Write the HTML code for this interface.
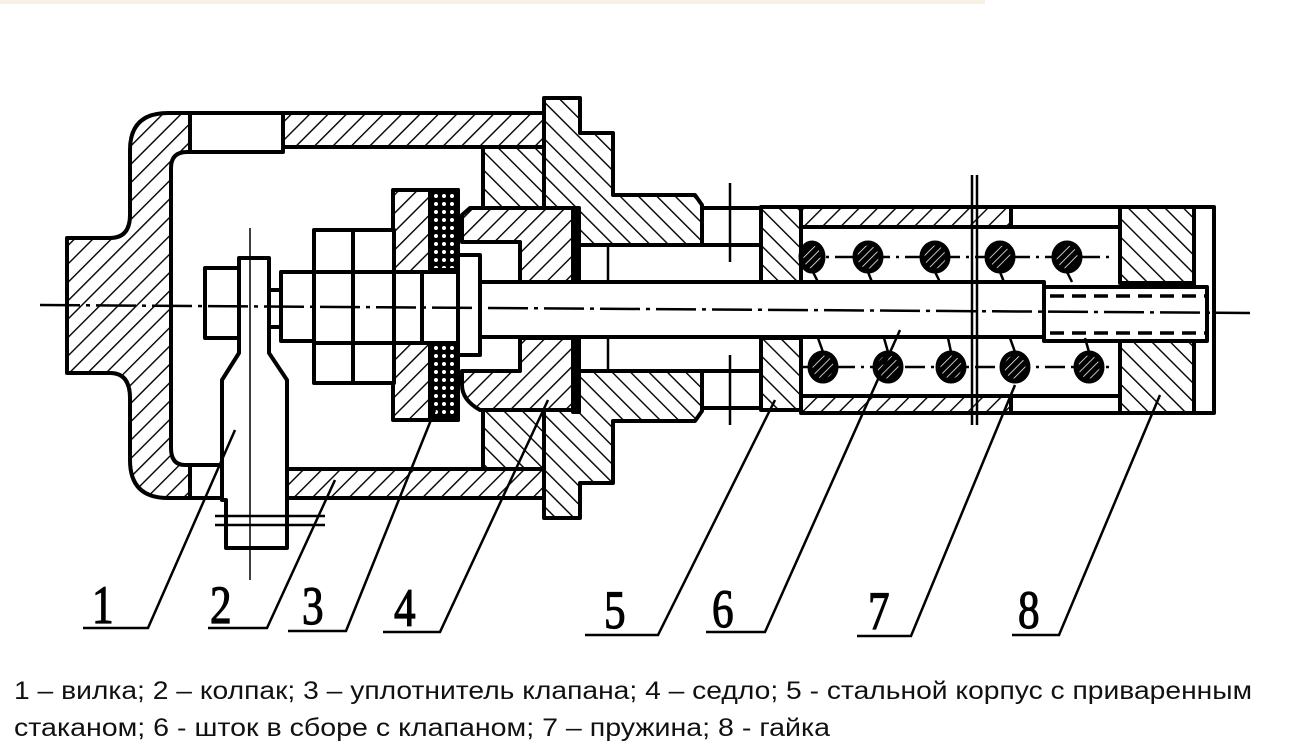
<!DOCTYPE html>
<html><head><meta charset="utf-8">
<style>
html,body{margin:0;padding:0;background:#fff;width:1295px;height:755px;overflow:hidden}
svg{display:block}
</style></head>
<body>
<svg width="1295" height="755" viewBox="0 0 1295 755" xmlns="http://www.w3.org/2000/svg">
<defs>
<pattern id="hf" patternUnits="userSpaceOnUse" width="13" height="13" patternTransform="rotate(45)">
<rect width="13" height="13" fill="#fff"/><line x1="0" y1="0" x2="0" y2="13" stroke="#000" stroke-width="2.8"/></pattern>
<pattern id="hb" patternUnits="userSpaceOnUse" width="13" height="13" patternTransform="rotate(-45)">
<rect width="13" height="13" fill="#fff"/><line x1="0" y1="0" x2="0" y2="13" stroke="#000" stroke-width="2.8"/></pattern>
<pattern id="sp" patternUnits="userSpaceOnUse" width="6" height="6" patternTransform="rotate(45)">
<rect width="6" height="6" fill="#000"/><line x1="0" y1="0" x2="0" y2="6" stroke="#fff" stroke-width="1.5"/></pattern>
<pattern id="xh" patternUnits="userSpaceOnUse" width="8" height="8">
<rect width="8" height="8" fill="#000"/><circle cx="4" cy="4" r="2" fill="#fff"/></pattern>
</defs>
<rect x="0" y="0" width="985" height="4" fill="#f6f1e3"/>
<g stroke="#000" stroke-width="4" stroke-linejoin="round">
<path d="M190,113 L168,113 Q130,113 130,150 L130,215 Q130,238 110,238 L67,238 L67,373 L110,373 Q130,373 130,398 L130,460 Q130,498 168,498 L190,498 L190,465 L185,465 Q171,465 171,448 L171,168 Q171,152 187,152 L190,152 Z" fill="url(#hf)"/>
<rect x="190" y="113" width="93" height="39" fill="#fff"/>
<rect x="283" y="113" width="261" height="34" fill="url(#hf)"/>
<rect x="190" y="465" width="97" height="33" fill="#fff"/>
<rect x="287" y="469" width="257" height="29" fill="url(#hf)"/>
<path d="M483,147 L544,147 L544,98 L580,98 L580,133 L613,133 L613,195 L695,195 L702,205 L702,245 L577,245 L577,208 L483,208 Z" fill="url(#hb)"/>
<path d="M483,469 L544,469 L544,518 L580,518 L580,483 L613,483 L613,421 L695,421 L702,411 L702,371 L577,371 L577,408 L483,408 Z" fill="url(#hb)"/>
<line x1="544" y1="147" x2="544" y2="208" />
<line x1="544" y1="408" x2="544" y2="469" />
<path d="M470,208 L577,208 L577,282 L520,282 L520,242 L462,242 L462,215 Z" fill="url(#hf)"/>
<path d="M462,371 L520,371 L520,338 L577,338 L577,410 L480,410 Q462,400 462,385 Z" fill="url(#hf)"/>
<rect x="573" y="208" width="6" height="74" fill="#000"/>
<rect x="573" y="338" width="6" height="74" fill="#000"/>
<rect x="702" y="208" width="59" height="37" fill="#fff"/>
<rect x="702" y="371" width="59" height="37" fill="#fff"/>
<rect x="761" y="207" width="40" height="75" fill="url(#hb)"/>
<rect x="761" y="338" width="40" height="72" fill="url(#hb)"/>
<rect x="801" y="207" width="210" height="20" fill="url(#hf)"/>
<rect x="801" y="396" width="210" height="17" fill="url(#hf)"/>
<rect x="1011" y="207" width="109" height="20" fill="#fff"/>
<rect x="1011" y="396" width="109" height="17" fill="#fff"/>
<rect x="1120" y="207" width="74" height="76" fill="url(#hb)"/>
<rect x="1120" y="338" width="74" height="75" fill="url(#hb)"/>
<rect x="1194" y="207" width="20" height="206" fill="#fff"/>
<rect x="480" y="282" width="564" height="55" fill="#fff"/>
<rect x="1044" y="287" width="163" height="54" fill="#fff"/>
<rect x="458" y="255" width="22" height="100" fill="#fff"/>
<rect x="393" y="190" width="65" height="230" fill="url(#hf)"/>
<rect x="430" y="190" width="28" height="80" fill="url(#xh)"/>
<rect x="430" y="343" width="28" height="77" fill="url(#xh)"/>
<rect x="393" y="272" width="65" height="71" fill="#fff"/>
<line x1="422" y1="272" x2="422" y2="343"/>
<rect x="314" y="230" width="80" height="153" fill="#fff"/>
<line x1="353" y1="230" x2="353" y2="383"/>
<line x1="314" y1="272" x2="394" y2="272"/>
<line x1="314" y1="343" x2="394" y2="343"/>
<rect x="281" y="272" width="33" height="69" fill="#fff"/>
<rect x="269" y="290" width="12" height="37" fill="#fff"/>
<rect x="205" y="268" width="34" height="70" fill="#fff"/>
<path d="M239,258 L269,258 L269,353 L287,380 L287,548 L226,548 L226,500 L222,500 L222,380 L239,353 Z" fill="#fff"/>
<line x1="250" y1="228" x2="250" y2="580" stroke-width="1.5"/>
<line x1="215" y1="516" x2="325" y2="516" stroke-width="2.5"/>
<line x1="215" y1="525" x2="325" y2="525" stroke-width="2.5"/>
</g>
<g stroke="#000" stroke-width="2.5" fill="none">
<line x1="40" y1="305" x2="1250" y2="313" stroke-dasharray="40 6 4 6"/>
<line x1="730" y1="183" x2="730" y2="262"/>
<line x1="730" y1="355" x2="730" y2="425"/>
<line x1="608" y1="245" x2="608" y2="282"/>
<line x1="608" y1="338" x2="608" y2="371"/>
<line x1="972" y1="175" x2="972" y2="425"/>
<line x1="977" y1="175" x2="977" y2="425"/>
<line x1="1050" y1="296" x2="1205" y2="296" stroke-width="3.5" stroke-dasharray="14 8"/>
<line x1="1050" y1="333" x2="1205" y2="333" stroke-width="3.5" stroke-dasharray="14 8"/>
<line x1="800" y1="257" x2="1110" y2="257" stroke-dasharray="20 6 3 6"/>
<line x1="800" y1="367" x2="1110" y2="367" stroke-dasharray="20 6 3 6"/>
<path d="M812,270 L818,282 M868,272 L872,282 M935,272 L940,282 M1000,272 L1004,282 M1067,272 L1072,282"/>
<path d="M823,352 L818,338 M888,352 L884,338 M951,352 L948,338 M1015,352 L1010,338 M1089,352 L1085,338"/>
</g>
<g stroke="#000" stroke-width="5" fill="url(#sp)">
<ellipse cx="812" cy="257" rx="11" ry="14"/><ellipse cx="868" cy="257" rx="13" ry="14"/><ellipse cx="935" cy="257" rx="13" ry="14"/><ellipse cx="1000" cy="257" rx="13" ry="14"/><ellipse cx="1067" cy="257" rx="13" ry="14"/>
<ellipse cx="823" cy="367" rx="13" ry="14"/><ellipse cx="888" cy="367" rx="13" ry="14"/><ellipse cx="951" cy="367" rx="13" ry="14"/><ellipse cx="1015" cy="367" rx="13" ry="14"/><ellipse cx="1089" cy="367" rx="13" ry="14"/>
</g>
<g stroke="#000" stroke-width="2.5" fill="none">
<path d="M83,628 L148,628 L235,430"/>
<path d="M208,628 L267,628 L335,480"/>
<path d="M288,631 L346,631 L435,410"/>
<path d="M383,632 L440,632 L548,400"/>
<path d="M585,635 L658,635 L775,400"/>
<path d="M706,632 L765,632 L900,330"/>
<path d="M857,636 L911,636 L1015,385"/>
<path d="M1012,635 L1059,635 L1160,395"/>
</g>
<g font-family="Liberation Serif, serif" font-size="54" fill="#000" stroke="#000" stroke-width="1.2">
<text transform="translate(92,623) scale(0.8,1)">1</text><text transform="translate(210,623) scale(0.8,1)">2</text><text transform="translate(302,624) scale(0.8,1)">3</text><text transform="translate(394,626) scale(0.8,1)">4</text>
<text transform="translate(604,628) scale(0.8,1)">5</text><text transform="translate(712,627) scale(0.8,1)">6</text><text transform="translate(868,629) scale(0.8,1)">7</text><text transform="translate(1018,628) scale(0.8,1)">8</text>
</g>
<g font-family="Liberation Sans, sans-serif" font-size="25" fill="#111">
<text x="14" y="699" textLength="1238" lengthAdjust="spacingAndGlyphs">1 – вилка; 2 – колпак; 3 – уплотнитель клапана; 4 – седло; 5 - стальной корпус с приваренным</text>
<text x="14" y="736" textLength="816" lengthAdjust="spacingAndGlyphs">стаканом; 6 - шток в сборе с клапаном; 7 – пружина; 8 - гайка</text>
</g>
</svg>
</body></html>
